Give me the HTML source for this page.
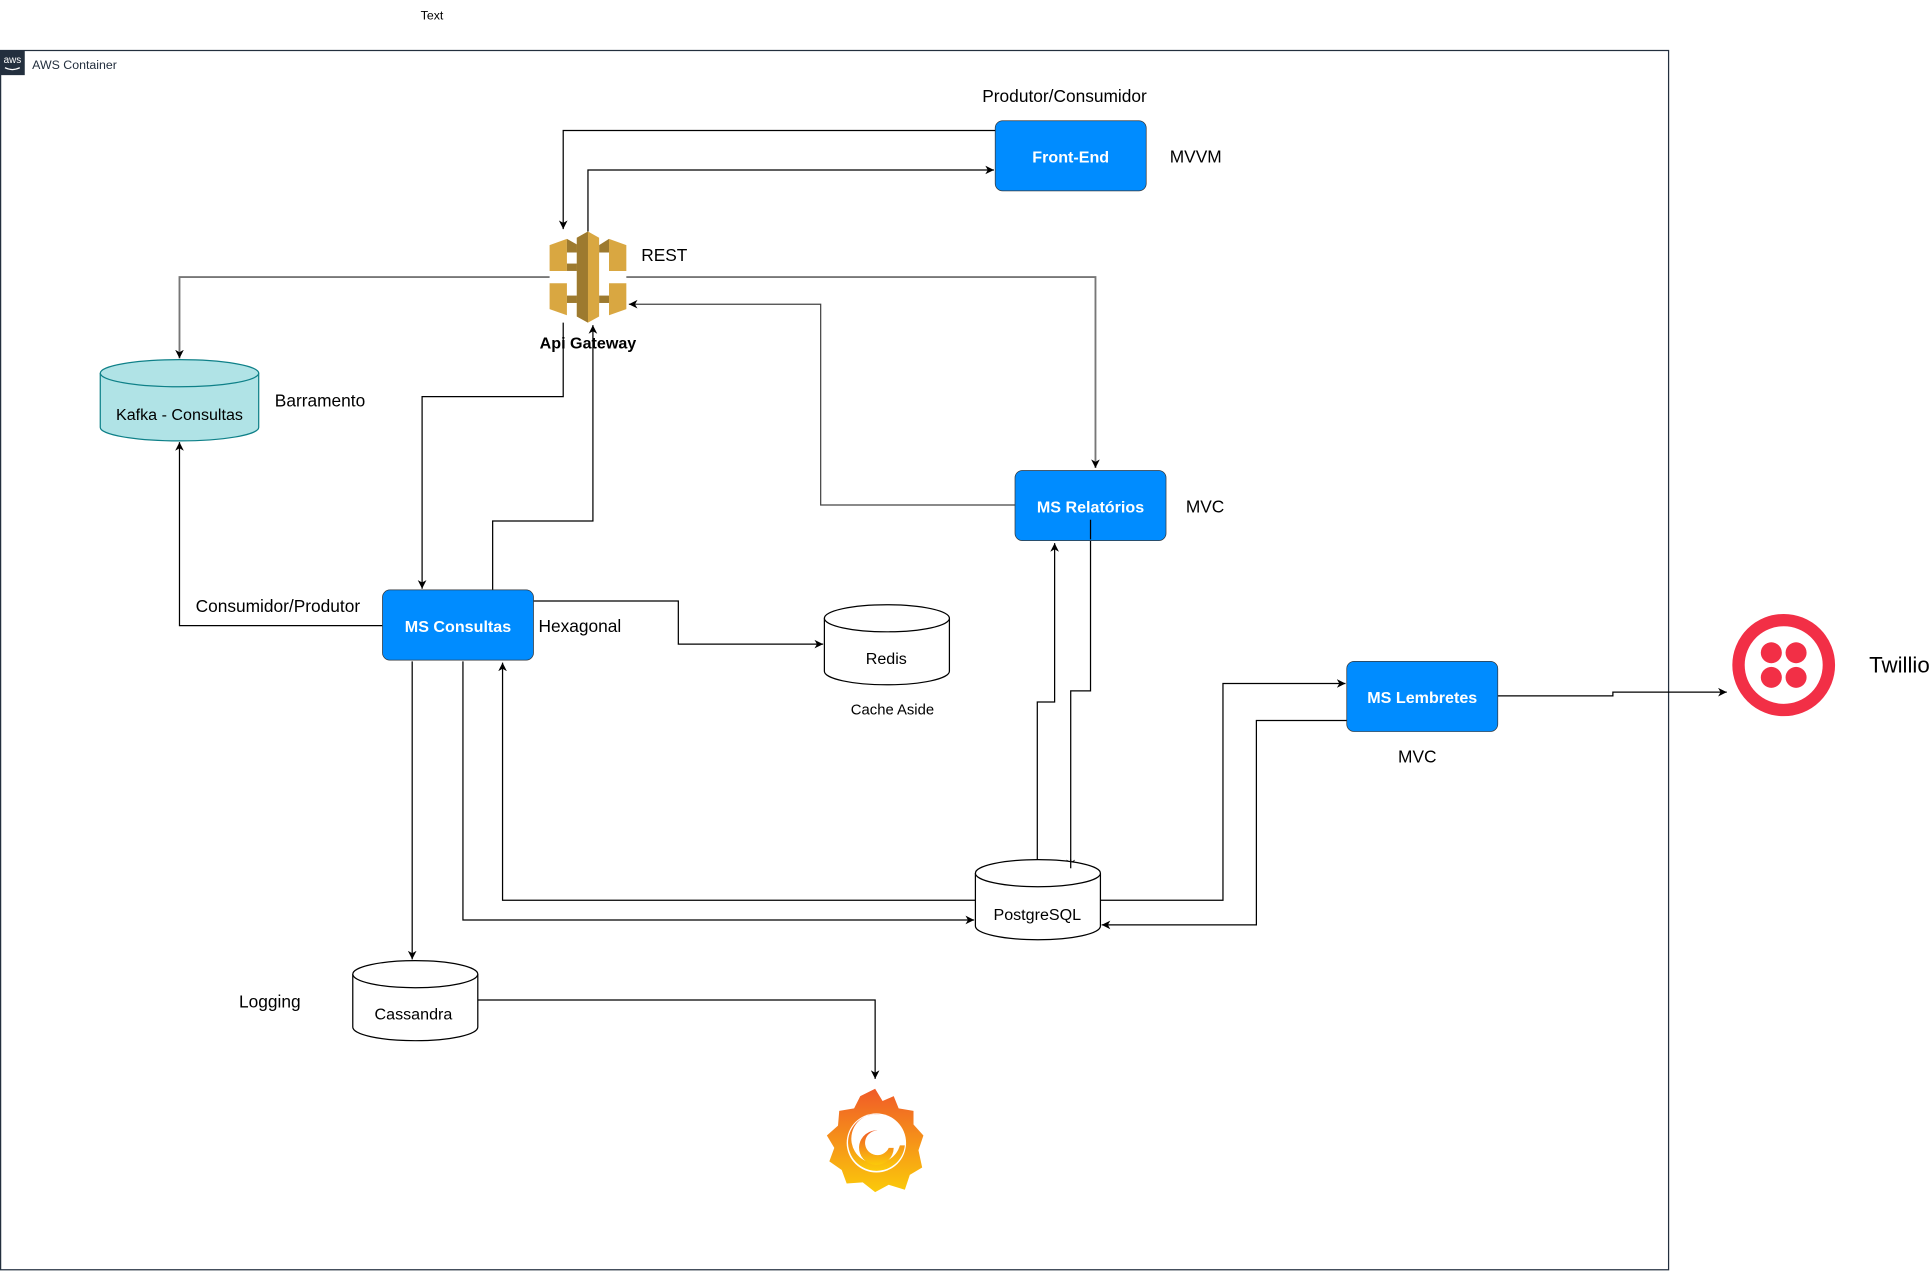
<!DOCTYPE html>
<html><head><meta charset="utf-8"><style>html,body{margin:0;padding:0;background:#fff}svg{display:block}</style></head>
<body>
<svg width="1931" height="1271" viewBox="0 0 1560 1032" preserveAspectRatio="none" xmlns="http://www.w3.org/2000/svg" font-family="Liberation Sans, sans-serif">
<defs>
<marker id="a" markerWidth="8" markerHeight="8" refX="7" refY="4" orient="auto" markerUnits="userSpaceOnUse"><path d="M0,0.5 L7,4 L0,7.5 L2,4 z" fill="#000"/></marker>
<linearGradient id="g" x1="0" y1="0" x2="0" y2="1"><stop offset="0" stop-color="#F05A28"/><stop offset="1" stop-color="#FBCA0A"/></linearGradient>
</defs>
<text x="349" y="16" font-size="10" text-anchor="middle">Text</text>
<rect x="0.5" y="41" width="1347.5" height="990" fill="none" stroke="#232f3e" stroke-width="1"/>
<rect x="0" y="41" width="20" height="20" fill="#232f3e"/>
<text x="10" y="51" font-size="8" fill="#fff" text-anchor="middle">aws</text>
<path d="M4,55 Q10,58 16,55" stroke="#fff" fill="none" stroke-width="1"/>
<text x="26" y="56" font-size="10" fill="#232f3e">AWS Container</text>

<text x="860" y="83" font-size="14" text-anchor="middle">Produtor/Consumidor</text>
<rect x="804" y="98" width="122" height="57" rx="6" fill="#008CFF" stroke="#36393d" stroke-width="0.6"/>
<text x="865" y="132" font-size="13" font-weight="bold" fill="#fff" text-anchor="middle">Front-End</text>
<text x="945" y="132" font-size="14">MVVM</text>

<g fill="none" stroke="#000" stroke-width="1">
<path d="M804,106 H455 V186" marker-end="url(#a)"/>
<path d="M475,188 V138 H803" marker-end="url(#a)"/>
<path d="M820,410 H663 V247 H508" marker-end="url(#a)" stroke="#444"/>
<path d="M309,508 H145 V359" marker-end="url(#a)"/>
<path d="M455,262 V322 H341 V478" marker-end="url(#a)"/>
<path d="M398,479 V423 H479 V264" marker-end="url(#a)"/>
<path d="M431,488 H548 V523 H665" marker-end="url(#a)"/>
<path d="M881,422 V561 H865 V705" marker-end="url(#a)"/>
<path d="M838,698 V570 H852 V441" marker-end="url(#a)"/>
<path d="M788,731 H406 V538" marker-end="url(#a)"/>
<path d="M374,537 V747 H787" marker-end="url(#a)"/>
<path d="M333,537 V779" marker-end="url(#a)"/>
<path d="M386,812 H707 V876" marker-end="url(#a)"/>
<path d="M889,731 H988 V555 H1087" marker-end="url(#a)"/>
<path d="M1088,585 H1015 V751 H890" marker-end="url(#a)"/>
<path d="M1210,565 H1303 V562 H1395" marker-end="url(#a)"/>
</g>
<g fill="none" stroke="#777" stroke-width="1.5">
<path d="M444,225 H145 V291" marker-end="url(#a)"/>
<path d="M506,225 H885 V380" marker-end="url(#a)"/>
</g>

<!-- API Gateway icon -->
<g>
<polygon points="444,199 458,194 458,220 444,220" fill="#D9A741"/>
<polygon points="458,194 467,199 467,205 458,205" fill="#9D7A2F"/>
<polygon points="458,214 467,214 467,220 458,220" fill="#9D7A2F"/>
<polygon points="506,199 492,194 492,220 506,220" fill="#D9A741"/>
<polygon points="492,194 484,199 484,205 492,205" fill="#9D7A2F"/>
<polygon points="444,230 458,230 458,256 444,251" fill="#D9A741"/>
<polygon points="458,240 467,240 467,246 458,246" fill="#9D7A2F"/>
<polygon points="506,230 492,230 492,256 506,251" fill="#D9A741"/>
<polygon points="484,240 492,240 492,246 484,246" fill="#9D7A2F"/>
<polygon points="466,193 475,188 484,193 484,257 475,262 466,257" fill="#D9A741"/>
<polygon points="466,193 475,188 475,262 466,257" fill="#9D7A2F"/>
</g>
<text x="475" y="283" font-size="13" font-weight="bold" text-anchor="middle">Api Gateway</text>
<text x="518" y="212" font-size="14">REST</text>

<!-- Kafka -->
<path d="M81,303 V347 A64,11 0 0 0 209,347 V303" fill="#b0e3e6" stroke="#0e8088"/>
<ellipse cx="145" cy="303" rx="64" ry="11" fill="#b0e3e6" stroke="#0e8088"/>
<text x="145" y="341" font-size="13" text-anchor="middle">Kafka - Consultas</text>
<text x="222" y="330" font-size="14">Barramento</text>

<rect x="309" y="479" width="122" height="57" rx="6" fill="#008CFF" stroke="#36393d" stroke-width="0.6"/>
<text x="370" y="513" font-size="13" font-weight="bold" fill="#fff" text-anchor="middle">MS Consultas</text>
<text x="435" y="513" font-size="14">Hexagonal</text>
<text x="158" y="497" font-size="14">Consumidor/Produtor</text>

<!-- Redis -->
<path d="M666,502 V545 A50.5,11 0 0 0 767,545 V502" fill="#fff" stroke="#000"/>
<ellipse cx="716.5" cy="502" rx="50.5" ry="11" fill="#fff" stroke="#000"/>
<text x="716" y="539" font-size="13" text-anchor="middle">Redis</text>
<text x="721" y="580" font-size="12" text-anchor="middle">Cache Aside</text>

<rect x="820" y="382" width="122" height="57" rx="6" fill="#008CFF" stroke="#36393d" stroke-width="0.6"/>
<text x="881" y="416" font-size="13" font-weight="bold" fill="#fff" text-anchor="middle">MS Relatórios</text>
<text x="958" y="416" font-size="14">MVC</text>
<line x1="881" y1="422" x2="881" y2="438" stroke="#000"/>

<!-- Postgres -->
<path d="M788,709 V752 A50.5,11 0 0 0 889,752 V709" fill="#fff" stroke="#000"/>
<ellipse cx="838.5" cy="709" rx="50.5" ry="11" fill="#fff" stroke="#000"/>
<text x="838" y="747" font-size="13" text-anchor="middle">PostgreSQL</text>
<line x1="865" y1="698" x2="865" y2="705" stroke="#000"/>

<!-- Cassandra -->
<path d="M285,791 V834 A50.5,11 0 0 0 386,834 V791" fill="#fff" stroke="#000"/>
<ellipse cx="335.5" cy="791" rx="50.5" ry="11" fill="#fff" stroke="#000"/>
<text x="334" y="828" font-size="13" text-anchor="middle">Cassandra</text>
<text x="218" y="818" font-size="14" text-anchor="middle">Logging</text>

<rect x="1088" y="537" width="122" height="57" rx="6" fill="#008CFF" stroke="#36393d" stroke-width="0.6"/>
<text x="1149" y="571" font-size="13" font-weight="bold" fill="#fff" text-anchor="middle">MS Lembretes</text>
<text x="1145" y="619" font-size="14" text-anchor="middle">MVC</text>

<!-- Twilio -->
<circle cx="1441" cy="540" r="36.5" fill="none" stroke="#F22F46" stroke-width="10"/>
<circle cx="1431" cy="530" r="8.5" fill="#F22F46"/>
<circle cx="1451" cy="530" r="8.5" fill="#F22F46"/>
<circle cx="1431" cy="550" r="8.5" fill="#F22F46"/>
<circle cx="1451" cy="550" r="8.5" fill="#F22F46"/>
<text x="1510" y="546" font-size="18">Twillio</text>

<!-- Grafana -->
<g>
<path d="M707,884 L713,894 L722,890 L726,900 L738,902 L738,913 L746,922 L742,934 L745,948 L735,954 L731,966 L718,962 L707,968 L697,960 L684,961 L680,950 L670,943 L674,932 L668,922 L677,914 L678,902 L690,900 L695,890 Z" fill="url(#g)"/>
<circle cx="708" cy="928" r="24" fill="#fff"/>
<path d="M731,930 A23,23 0 1 1 712,905 A20,20 0 1 0 727,930 Z" fill="url(#g)"/>
<path d="M722,932 A14,14 0 1 1 710,918 A10,10 0 1 0 718,932 Z" fill="url(#g)"/>
</g>
</svg>
</body></html>
